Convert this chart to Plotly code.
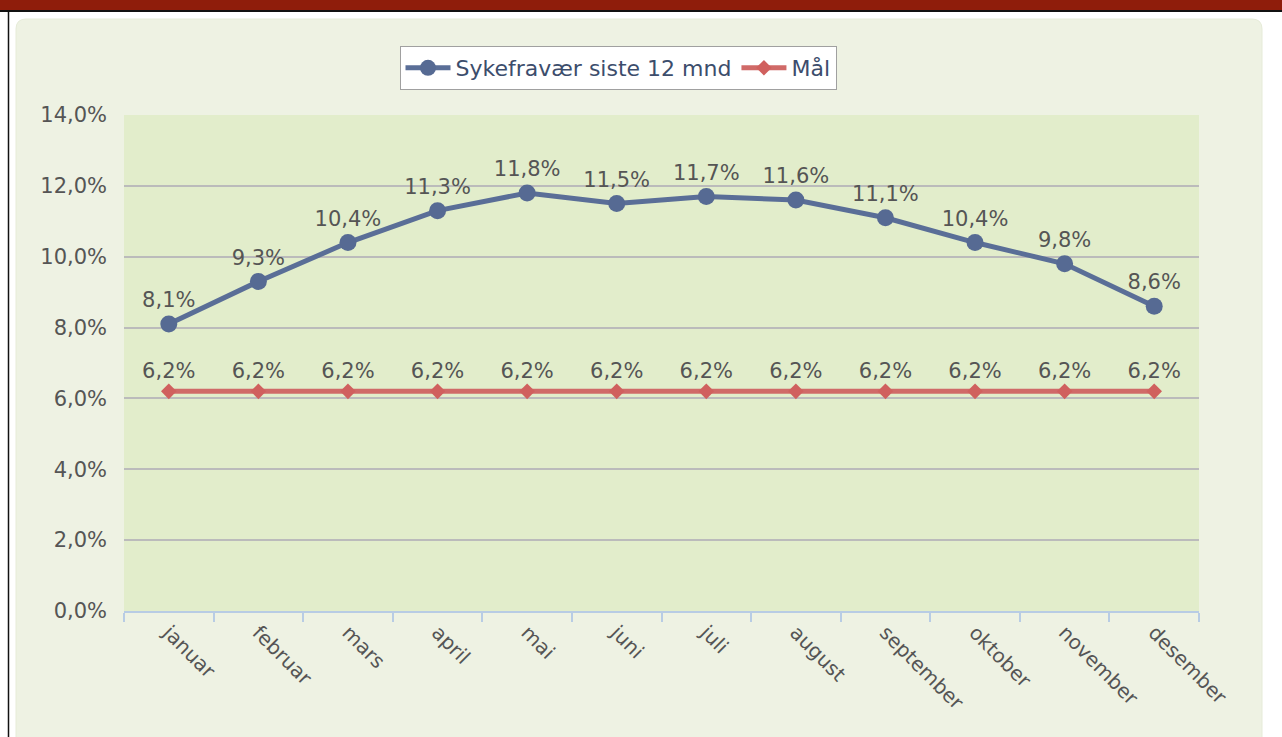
import plotly.graph_objects as go

months = ["januar", "februar", "mars", "april", "mai", "juni", "juli",
          "august", "september", "oktober", "november", "desember"]
sykefravaer = [8.1, 9.3, 10.4, 11.3, 11.8, 11.5, 11.7, 11.6, 11.1, 10.4, 9.8, 8.6]
maal = [6.2] * 12
y_ticks = [0, 2, 4, 6, 8, 10, 12, 14]

W, H = 1282, 737
L, R, T, B = 124, 1199, 115, 611


def px(x):
    return (x - L) / (R - L)


def py(y):
    return (B - y) / (B - T)


def rounded_rect(x0, y0, x1, y1, r):
    return (f"M {px(x0 + r)},{py(y0)} L {px(x1 - r)},{py(y0)} "
            f"Q {px(x1)},{py(y0)} {px(x1)},{py(y0 + r)} "
            f"L {px(x1)},{py(y1 - r)} Q {px(x1)},{py(y1)} {px(x1 - r)},{py(y1)} "
            f"L {px(x0 + r)},{py(y1)} Q {px(x0)},{py(y1)} {px(x0)},{py(y1 - r)} "
            f"L {px(x0)},{py(y0 + r)} Q {px(x0)},{py(y0)} {px(x0 + r)},{py(y0)} Z")


FONT = "DejaVu Sans"

fig = go.Figure()
fig.add_trace(go.Scatter(
    x=months, y=sykefravaer, name="Sykefravær siste 12 mnd",
    mode="lines+markers+text",
    line=dict(color="#5A6E97", width=5),
    marker=dict(symbol="circle", size=17, color="#566A93"),
    text=sykefravaer, texttemplate="%{y:.1f}%", textposition="top center",
    textfont=dict(family=FONT, size=21, color="#555555"),
    cliponaxis=False,
))
fig.add_trace(go.Scatter(
    x=months, y=maal, name="Mål",
    mode="lines+markers+text",
    line=dict(color="#D06A68", width=5),
    marker=dict(symbol="diamond", size=12, color="#D0605E"),
    text=maal, texttemplate="%{y:.1f}%", textposition="top center",
    textfont=dict(family=FONT, size=21, color="#555555"),
    cliponaxis=False,
))

shapes = [
    # panel
    dict(type="path", path=rounded_rect(16, 19, 1262, 760, 10),
         xref="paper", yref="paper", fillcolor="#EEF2E3",
         line=dict(color="#E6EBD8", width=1), layer="below"),
    # plot area
    dict(type="rect", xref="paper", yref="paper", x0=0, x1=1, y0=0, y1=1,
         fillcolor="#E2EDCB", line=dict(width=0), layer="below"),
    # top bar
    dict(type="rect", xref="paper", yref="paper", x0=px(-5), x1=px(W + 5),
         y0=py(10), y1=py(-5), fillcolor="#8F1D0B", line=dict(width=0), layer="below"),
    dict(type="line", xref="paper", yref="paper", x0=px(-5), x1=px(W + 5),
         y0=py(11), y1=py(11), line=dict(color="#111111", width=2), layer="below"),
    dict(type="line", xref="paper", yref="paper", x0=px(8.5), x1=px(8.5),
         y0=py(11), y1=py(H + 5), line=dict(color="#111111", width=1.5), layer="below"),
]

fig.update_layout(
    width=W, height=H,
    margin=dict(l=L, r=W - R, t=T, b=H - B, autoexpand=False),
    paper_bgcolor="#FFFFFF",
    plot_bgcolor="rgba(0,0,0,0)",
    separators=", ",
    font=dict(family=FONT, size=20, color="#555555"),
    shapes=shapes,
    showlegend=True,
    legend=dict(
        orientation="h", x=px(618), xanchor="center", y=py(46), yanchor="top",
        bgcolor="#FFFFFF", bordercolor="#A0A0A0", borderwidth=1,
        font=dict(family=FONT, size=22, color="#3C4D6C"),
        itemwidth=45,
    ),
    xaxis=dict(
        type="category", categoryorder="array", categoryarray=months,
        range=[-0.5, 11.5], tickson="boundaries",
        ticks="outside", ticklen=9, tickcolor="#B8CCE4", tickwidth=2,
        showline=True, linecolor="#B8CCE4", linewidth=2,
        showgrid=False, tickangle=45,
        tickfont=dict(family=FONT, size=20, color="#555555"),
        fixedrange=True,
    ),
    yaxis=dict(
        range=[0, 14], tickvals=y_ticks,
        ticktext=[f"{v:.1f}%".replace(".", ",") for v in y_ticks],
        showgrid=True, gridcolor="#BBBBBB", gridwidth=2,
        zeroline=False, showline=False, ticks="",
        ticklabelstandoff=16,
        tickfont=dict(family=FONT, size=21, color="#555555"),
        fixedrange=True,
    ),
)

fig.write_html(
    "out.html",
    config={"displayModeBar": False},
    post_script="document.body.style.margin='0';document.body.style.overflow='hidden';",
)
